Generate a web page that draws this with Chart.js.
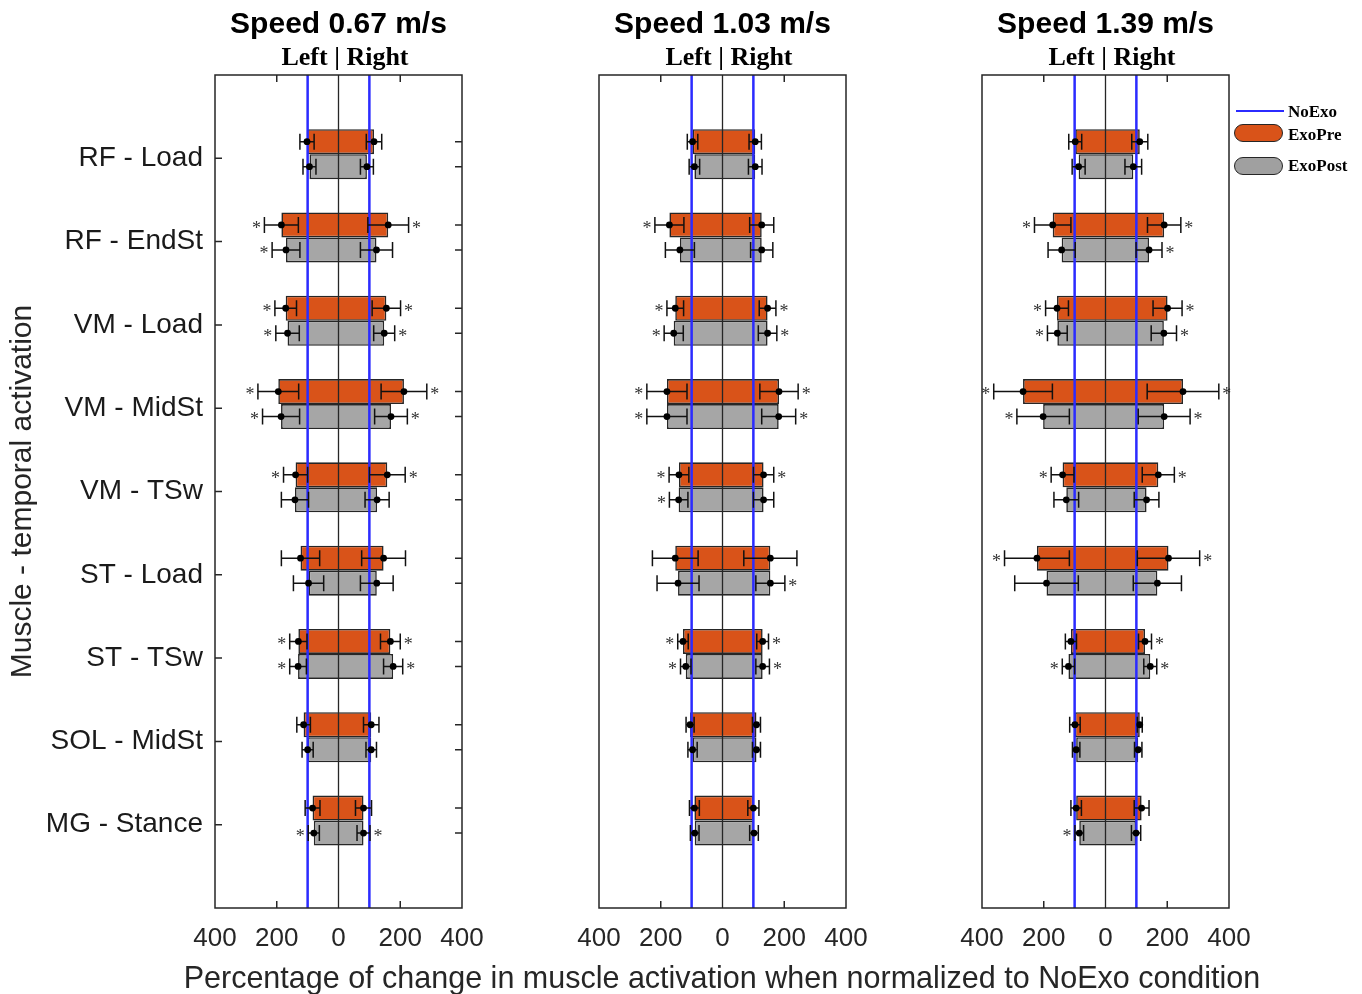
<!DOCTYPE html>
<html>
<head>
<meta charset="utf-8">
<script src="https://cdn.jsdelivr.net/npm/chart.js@4.4.1/dist/chart.umd.min.js"></script>
<style>
  body { margin: 0; background: #fff; }
  #wrap { position: relative; width: 1362px; height: 994px; overflow: hidden; background: #fff; }
  #wrap canvas { position: absolute; left: 0; top: 0; }
  .key { position: absolute; box-sizing: border-box; }
  .keyText { position: absolute; font: bold 17px 'Liberation Serif', 'Times New Roman', serif; line-height: 17px; color: #000; white-space: nowrap; }
  #xTitle { position: absolute; left: 122px; width: 1200px; top: 962px; text-align: center; font: 30.5px 'Liberation Sans', Arial, sans-serif; line-height: 30.5px; color: #262626; white-space: nowrap; }
</style>
</head>
<body>
<div id="wrap">
  <canvas id="p0" width="1362" height="994"></canvas>
  <canvas id="p1" width="1362" height="994"></canvas>
  <canvas id="p2" width="1362" height="994"></canvas>

  <div id="xTitle"></div>

  <div class="key" style="left:1236px;top:110px;width:48px;height:2px;background:#2b2bff"></div>
  <div class="keyText" style="left:1288px;top:103px">NoExo</div>
  <div class="key" style="left:1234px;top:124px;width:49px;height:18px;border:1.5px solid #262626;border-radius:9px;background:#D95319"></div>
  <div class="keyText" style="left:1288px;top:126px">ExoPre</div>
  <div class="key" style="left:1234px;top:157px;width:49px;height:18px;border:1.5px solid #262626;border-radius:9px;background:#A0A0A0"></div>
  <div class="keyText" style="left:1288px;top:157px">ExoPost</div>
</div>
<script>
const muscles = ["RF - Load", "RF - EndSt", "VM - Load", "VM - MidSt", "VM - TSw", "ST - Load", "ST - TSw", "SOL - MidSt", "MG - Stance"];
const speeds = ["Speed 0.67 m/s", "Speed 1.03 m/s", "Speed 1.39 m/s"];
const xTicks = [-400, -200, 0, 200, 400];
const noExo = [-100, 100];
const xTitle = "Percentage of change in muscle activation when normalized to NoExo condition";
const yTitle = "Muscle - temporal activation";

// [left, right] mean change (%) per muscle, left side negative
const exoPre067 = [[-102, 115], [-185, 161], [-171, 155], [-195, 212], [-139, 158], [-123, 146], [-130, 168], [-113, 106], [-84, 81]];
const exoPreSd067 = [[23, 25], [55, 66], [35, 46], [66, 74], [39, 58], [62, 71], [28, 32], [22, 25], [24, 26]];
const exoPreStar067 = [[0, 0], [1, 1], [1, 1], [1, 1], [1, 1], [0, 0], [1, 1], [0, 0], [0, 0]];
const exoPost067 = [[-94, 92], [-170, 123], [-165, 148], [-186, 170], [-141, 125], [-97, 124], [-131, 177], [-100, 106], [-80, 81]];
const exoPostSd067 = [[21, 21], [45, 52], [38, 34], [60, 53], [44, 39], [49, 53], [27, 31], [18, 17], [18, 21]];
const exoPostStar067 = [[0, 0], [1, 0], [1, 1], [1, 1], [0, 0], [0, 0], [1, 1], [0, 0], [1, 1]];

const exoPre103 = [[-97, 106], [-172, 127], [-153, 146], [-180, 183], [-141, 133], [-153, 155], [-128, 130], [-105, 110], [-91, 100]];
const exoPreSd103 = [[17, 20], [47, 39], [27, 27], [65, 62], [32, 33], [74, 86], [17, 19], [13, 13], [16, 18]];
const exoPreStar103 = [[0, 0], [1, 0], [1, 1], [1, 1], [1, 1], [0, 0], [1, 1], [0, 0], [0, 0]];
const exoPost103 = [[-91, 106], [-138, 127], [-158, 146], [-180, 182], [-142, 133], [-144, 155], [-119, 130], [-97, 110], [-90, 102]];
const exoPostSd103 = [[17, 22], [47, 36], [31, 30], [65, 55], [30, 33], [68, 47], [17, 22], [15, 13], [14, 14]];
const exoPostStar103 = [[0, 0], [0, 0], [1, 1], [1, 1], [1, 0], [0, 1], [1, 1], [0, 0], [0, 0]];

const exoPre139 = [[-98, 111], [-171, 190], [-157, 201], [-267, 251], [-139, 171], [-222, 204], [-112, 128], [-99, 111], [-95, 117]];
const exoPreSd139 = [[21, 26], [59, 54], [37, 47], [95, 116], [37, 52], [105, 101], [18, 21], [17, 8], [17, 24]];
const exoPreStar139 = [[0, 0], [1, 1], [1, 1], [1, 1], [1, 1], [1, 1], [0, 1], [0, 0], [0, 0]];
const exoPost139 = [[-87, 90], [-142, 141], [-156, 189], [-202, 190], [-127, 133], [-191, 168], [-120, 145], [-95, 106], [-85, 99]];
const exoPostSd139 = [[21, 27], [44, 42], [32, 41], [85, 84], [40, 40], [103, 78], [20, 21], [12, 12], [14, 15]];
const exoPostStar139 = [[0, 0], [0, 1], [1, 1], [1, 1], [0, 0], [0, 0], [1, 1], [0, 0], [1, 0]];

const SANS = "'Liberation Sans', Arial, Helvetica, sans-serif";
const SERIF = "'Liberation Serif', 'Times New Roman', serif";
const ORANGE = "#D95319";
const GREY = "#A6A6A6";
const EDGE = "#262626";
const BLUE = "#2b2bff";
const groupOffset = 0.05;   // bar pairs sit slightly above the category tick

const panels = [
    { title: speeds[0], pre: exoPre067, preSd: exoPreSd067, preStar: exoPreStar067, post: exoPost067, postSd: exoPostSd067, postStar: exoPostStar067 },
    { title: speeds[1], pre: exoPre103, preSd: exoPreSd103, preStar: exoPreStar103, post: exoPost103, postSd: exoPostSd103, postStar: exoPostStar103 },
    { title: speeds[2], pre: exoPre139, preSd: exoPreSd139, preStar: exoPreStar139, post: exoPost139, postSd: exoPostSd139, postStar: exoPostStar139 },
];
const areaLeft = [215, 599, 982];
const areaRight = [462, 846, 1229];

document.getElementById("xTitle").textContent = xTitle;

// frame, inner ticks, error bars and significance stars
const panelDecor = {
    id: "panelDecor",
    afterDatasetsDraw(chart, args, opts) {
        const { ctx, scales: { x } } = chart;
        const p = opts.panel;
        ctx.save();
        ctx.lineWidth = 1.5;
        ctx.strokeStyle = "#111";
        ctx.fillStyle = "#000";
        ctx.font = "18px " + SERIF;
        ctx.textAlign = "center";
        ctx.textBaseline = "middle";
        const groups = [[0, p.pre, p.preSd, p.preStar], [1, p.post, p.postSd, p.postStar]];
        groups.forEach(([di, means, sds, stars]) => {
            chart.getDatasetMeta(di).data.forEach((bar, i) => {
                const yc = bar.y;
                means[i].forEach((m, side) => {
                    const sd = sds[i][side];
                    const x0 = x.getPixelForValue(m - sd);
                    const x1 = x.getPixelForValue(m + sd);
                    const xm = x.getPixelForValue(m);
                    ctx.beginPath();
                    ctx.moveTo(x0, yc); ctx.lineTo(x1, yc);
                    ctx.moveTo(x0, yc - 8); ctx.lineTo(x0, yc + 8);
                    ctx.moveTo(x1, yc - 8); ctx.lineTo(x1, yc + 8);
                    ctx.stroke();
                    ctx.beginPath();
                    ctx.arc(xm, yc, 3.4, 0, Math.PI * 2);
                    ctx.fill();
                    if (stars[i][side]) {
                        ctx.fillStyle = "#333";
                        ctx.fillText("*", side === 0 ? x0 - 8 : x1 + 8, yc + 4);
                        ctx.fillStyle = "#000";
                    }
                });
            });
        });
        ctx.restore();
    },
    afterDraw(chart, args, opts) {
        const { ctx, chartArea: a, scales: { x, y } } = chart;
        ctx.save();
        ctx.strokeStyle = EDGE;
        ctx.lineWidth = 1.5;
        ctx.strokeRect(a.left, a.top, a.width, a.height);
        ctx.beginPath();
        [-200, 200].forEach(v => {
            const px = x.getPixelForValue(v);
            ctx.moveTo(px, a.top); ctx.lineTo(px, a.top + 7);
            ctx.moveTo(px, a.bottom); ctx.lineTo(px, a.bottom - 7);
        });
        if (opts.sideTicks) {
            muscles.forEach((m, i) => {
                const py = y.getPixelForValue(i + 1);
                ctx.moveTo(a.left, py); ctx.lineTo(a.left + 7, py);
            });
            [0, 1].forEach(di => {
                chart.getDatasetMeta(di).data.forEach(bar => {
                    ctx.moveTo(a.right, bar.y); ctx.lineTo(a.right - 7, bar.y);
                });
            });
        }
        ctx.stroke();
        ctx.restore();
    }
};

function vLine(v, color, width, label) {
    return {
        type: "line",
        label: label,
        data: [{ x: v, y: 0 }, { x: v, y: muscles.length + 1 }],
        borderColor: color,
        borderWidth: width,
        pointRadius: 0,
        order: 1,
    };
}

function makePanel(idx) {
    const p = panels[idx];
    const first = idx === 0;
    new Chart(document.getElementById("p" + idx), {
        type: "bar",
        data: {
            datasets: [
                {
                    label: "ExoPre",
                    data: p.pre.map((v, i) => ({ x: v, y: i + 1 - groupOffset })),
                    backgroundColor: ORANGE,
                    borderColor: EDGE,
                    borderWidth: 1.6,
                    borderSkipped: false,
                    categoryPercentage: 0.6,
                    barPercentage: 1,
                    order: 2,
                },
                {
                    label: "ExoPost",
                    data: p.post.map((v, i) => ({ x: v, y: i + 1 - groupOffset })),
                    backgroundColor: GREY,
                    borderColor: EDGE,
                    borderWidth: 1.6,
                    borderSkipped: false,
                    categoryPercentage: 0.6,
                    barPercentage: 1,
                    order: 2,
                },
                vLine(noExo[0], BLUE, 2.5, "NoExo"),
                vLine(noExo[1], BLUE, 2.5, "NoExo"),
                vLine(0, EDGE, 1.3, "zero"),
            ],
        },
        options: {
            indexAxis: "y",
            responsive: false,
            animation: false,
            layout: {
                padding: { left: first ? 0 : areaLeft[idx], right: 1362 - areaRight[idx], top: 0, bottom: 0 },
            },
            plugins: {
                legend: { display: false },
                tooltip: { enabled: false },
                title: {
                    display: true,
                    text: p.title,
                    fullSize: false,
                    color: "#000",
                    font: { family: SANS, size: 30, weight: "bold" },
                    padding: { top: 7, bottom: 0 },
                },
                subtitle: {
                    display: true,
                    text: "\u2002Left | Right",
                    fullSize: false,
                    color: "#000",
                    font: { family: SERIF, size: 26, weight: "bold" },
                    padding: { top: 0, bottom: 0.8 },
                },
                panelDecor: { panel: p, sideTicks: first },
            },
            scales: {
                x: {
                    type: "linear",
                    min: xTicks[0],
                    max: xTicks[xTicks.length - 1],
                    afterBuildTicks: s => { s.ticks = xTicks.map(v => ({ value: v })); },
                    ticks: {
                        callback: v => Math.abs(v),
                        color: EDGE,
                        font: { family: SANS, size: 26 },
                        padding: 15,
                        maxRotation: 0,
                        autoSkip: false,
                    },
                    grid: { display: false, drawTicks: false },
                    border: { display: false },
                    afterFit: s => { s.height = 86; },
                },
                y: {
                    type: "linear",
                    display: first,
                    offset: false,
                    reverse: true,
                    min: 0,
                    max: muscles.length + 1,
                    ticks: {
                        stepSize: 1,
                        autoSkip: false,
                        callback: v => muscles[v - 1] || "",
                        color: "#1a1a1a",
                        font: { family: SANS, size: 28 },
                        padding: 12,
                    },
                    grid: { display: false, drawTicks: false },
                    border: { display: false },
                    title: {
                        display: true,
                        text: yTitle,
                        color: EDGE,
                        font: { family: SANS, size: 30 },
                        padding: { top: 5, bottom: 0 },
                    },
                    afterFit: s => { if (first) s.width = areaLeft[0]; },
                },
            },
        },
        plugins: [panelDecor],
    });
}

panels.forEach((p, i) => makePanel(i));
</script>
</body>
</html>
